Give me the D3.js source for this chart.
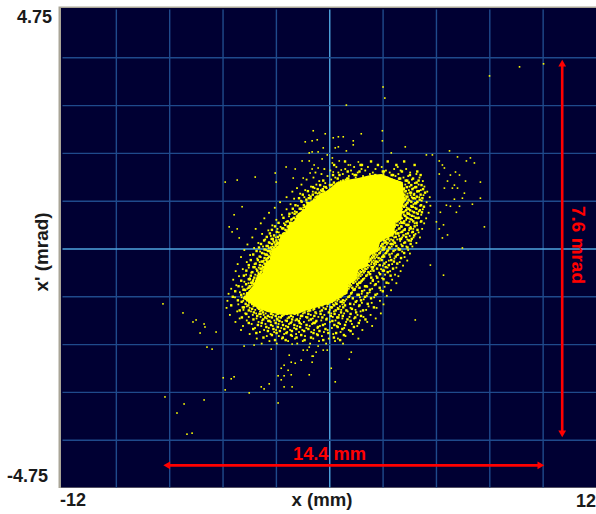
<!DOCTYPE html>
<html>
<head>
    <meta charset="utf-8">
    <title>Beam emittance x x'</title>
    <script src="https://d3js.org/d3.v7.min.js"></script>
    <style>
        body { margin: 0; background: #fff; }
        svg { display: block; }
        text { font-family: "Liberation Sans", Arial, sans-serif; font-weight: bold; }
    </style>
</head>
<body>
    <script>
        const xTicks = [-12, -9.6, -7.2, -4.8, -2.4, 0, 2.4, 4.8, 7.2, 9.6, 12];
        const yTicks = [-4.75, -3.8, -2.85, -1.9, -0.95, 0, 0.95, 1.9, 2.85, 3.8, 4.75];

        // solid part of the cloud, outline (mm, mrad)
        const coreOutline = [
            [-3.85,-1.0],[-3.6,-0.84],[-3.42,-0.74],[-3.25,-0.56],[-3.02,-0.5],[-2.9,-0.3],[-2.66,-0.22],[-2.55,-0.02],
            [-2.3,0.05],[-2.2,0.24],[-1.9,0.32],[-1.85,0.46],[-1.55,0.56],[-1.4,0.7],[-1.12,0.78],[-1.0,0.9],
            [-0.68,0.96],[-0.4,1.1],[-0.18,1.13],[0.1,1.22],[0.3,1.3],[0.75,1.36],[1.3,1.4],[1.85,1.46],
            [2.35,1.48],[2.9,1.38],[3.3,1.32],[3.35,1.12],[3.4,1.0],[3.3,0.82],[3.25,0.6],[2.98,0.52],
            [2.92,0.28],[2.55,0.2],[2.28,0.12],[2.18,-0.06],[1.82,-0.14],[1.72,-0.36],[1.33,-0.42],[1.18,-0.64],
            [0.86,-0.72],[0.82,-0.9],[0.36,-1.0],[0.15,-1.08],[-0.3,-1.14],[-1.1,-1.24],[-1.4,-1.3],[-2.07,-1.32],
            [-2.8,-1.26],[-3.4,-1.14]
        ];

        // halo round the core, one row per x' value: [x', x, x, x ...]
        const haloRows = [
            [1.62,0.32,1.12,1.74,2.36,3.08],
            [1.58,-0.22,0.72,1.45,2.08,2.92,3.46],
            [1.55,0.05,0.98,1.62,2.55,3.21],
            [1.51,-0.62,0.41,1.28,1.96,2.72,3.64],
            [1.48,-0.35,0.61,1.05,1.83,2.44,3.11,3.92],
            [1.44,-0.08,0.88,1.52,2.27,2.98,3.55],
            [1.41,-0.71,0.27,1.19,1.71,2.62,3.34,4.06],
            [1.37,-1.02,0.09,0.74,1.38,2.15,2.83,3.72],
            [1.34,-0.45,0.52,1.02,1.91,2.49,3.05,3.48,4.21],
            [1.30,-0.18,0.36,0.93,1.66,2.31,2.77,3.26,3.85],
            [1.27,-1.25,-0.58,0.14,0.68,2.04,2.58,2.95,3.42,4.02],
            [1.23,-0.82,-0.24,0.31,0.57,2.28,2.68,3.12,3.61,4.28],
            [1.20,-1.45,-0.66,-0.12,0.23,0.71,2.33,2.71,2.98,3.37,3.79],
            [1.16,-1.08,-0.38,0.05,0.44,2.61,2.86,3.22,3.58,4.12],
            [1.13,-1.66,-0.74,-0.21,0.18,0.39,2.76,3.04,3.41,3.95,4.41],
            [1.09,-1.31,-0.52,-0.07,0.11,2.72,2.91,3.18,3.52,3.83],
            [1.06,-0.91,-0.41,-0.16,2.81,3.09,3.29,3.66,4.24],
            [1.02,-1.92,-1.12,-0.63,-0.28,2.86,2.99,3.33,3.71,4.05,4.52],
            [0.99,-1.58,-0.83,-0.47,-0.11,2.93,3.15,3.46,3.88],
            [0.95,-1.27,-0.72,-0.34,-0.21,2.89,3.07,3.38,3.62,4.16],
            [0.92,-2.21,-1.02,-0.58,-0.39,3.01,3.24,3.54,3.97,4.38],
            [0.88,-1.74,-0.88,-0.51,-0.44,2.96,3.12,3.43,3.79],
            [0.85,-1.41,-0.96,-0.67,-0.53,3.04,3.31,3.68,4.09,4.55],
            [0.81,-2.45,-1.17,-0.84,-0.61,2.98,3.19,3.49,3.86],
            [0.78,-1.92,-1.28,-0.93,-0.72,3.08,3.27,3.58,4.21],
            [0.74,-1.55,-1.08,-0.87,3.02,3.14,3.39,3.74,4.03],
            [0.71,-2.71,-1.66,-1.22,-1.01,2.99,3.23,3.51,3.92,4.47],
            [0.67,-2.13,-1.36,-1.12,3.06,3.35,3.63,4.14],
            [0.64,-1.81,-1.47,-1.19,2.97,3.18,3.44,3.81],
            [0.60,-2.92,-1.63,-1.31,3.03,3.28,3.57,3.99,4.36],
            [0.57,-2.38,-1.72,-1.38,-1.24,2.98,3.11,3.46,3.73],
            [0.53,-1.94,-1.49,-1.29,3.01,3.22,3.61,4.11],
            [0.50,-3.08,-2.04,-1.58,-1.36,2.94,3.17,3.38,3.84,4.27],
            [0.46,-2.56,-1.77,-1.45,2.91,3.09,3.52,3.95],
            [0.43,-2.19,-1.88,-1.52,2.96,3.26,3.66],
            [0.39,-3.31,-2.33,-1.66,-1.56,2.89,3.12,3.41,3.78,4.18],
            [0.36,-2.74,-1.95,-1.69,2.86,3.03,3.33,3.59],
            [0.32,-2.27,-1.82,-1.61,2.78,2.94,3.21,3.72,4.02],
            [0.29,-3.02,-2.09,-1.74,2.73,2.99,3.45,3.88],
            [0.25,-2.63,-2.17,-1.91,2.69,2.85,3.14,3.62],
            [0.22,-3.46,-2.41,-2.01,-1.94,2.66,2.92,3.28,3.79,4.08],
            [0.18,-2.88,-2.26,-1.99,2.58,2.78,3.06,3.51],
            [0.15,-2.52,-2.12,2.53,2.71,3.19,3.68],
            [0.11,-3.19,-2.67,-2.29,-2.16,2.48,2.64,2.97,3.36,3.92],
            [0.08,-3.68,-2.43,-2.24,2.41,2.59,2.88,3.24],
            [0.04,-2.98,-2.55,-2.31,2.34,2.52,2.81,3.47,3.74],
            [0.01,-3.38,-2.72,-2.37,2.26,2.49,2.73,3.11],
            [-0.03,-3.82,-2.84,-2.46,-2.39,2.18,2.38,2.66,2.97,3.55],
            [-0.06,-3.11,-2.61,-2.43,2.09,2.31,2.59,3.28],
            [-0.10,-2.93,-2.52,2.02,2.24,2.51,2.82,3.63],
            [-0.13,-3.56,-2.78,-2.56,1.96,2.17,2.44,3.04],
            [-0.17,-3.97,-3.08,-2.66,-2.59,1.91,2.13,2.37,2.74,3.39],
            [-0.20,-3.24,-2.81,-2.63,1.84,2.06,2.31,2.93],
            [-0.24,-2.94,-2.69,1.78,1.99,2.26,2.68,3.51],
            [-0.27,-3.71,-3.13,-2.74,1.71,1.92,2.19,2.56,3.17],
            [-0.31,-4.12,-3.36,-2.86,-2.72,1.66,1.89,2.11,2.83],
            [-0.34,-3.02,-2.77,1.59,1.81,2.04,2.41,3.32],
            [-0.38,-3.62,-3.17,-2.84,1.53,1.74,1.98,2.62,3.02],
            [-0.41,-3.89,-3.28,-2.92,-2.82,1.47,1.68,1.93,2.33],
            [-0.45,-4.21,-3.05,-2.87,1.39,1.61,1.87,2.74,3.21],
            [-0.48,-3.51,-3.19,-2.94,1.32,1.56,1.79,2.24],
            [-0.52,-3.74,-3.33,-3.01,1.24,1.48,1.72,2.51,2.96],
            [-0.55,-4.06,-3.11,-2.98,1.17,1.41,1.65,2.12,3.11],
            [-0.59,-3.58,-3.26,-3.06,1.09,1.33,1.58,2.38],
            [-0.62,-4.32,-3.41,-3.14,0.97,1.26,1.51,1.97,2.83],
            [-0.66,-3.82,-3.29,-3.19,0.89,1.19,1.44,2.21],
            [-0.69,-3.63,-3.37,0.83,1.07,1.38,1.86,2.67,3.02],
            [-0.73,-4.18,-3.48,-3.31,0.76,0.99,1.29,2.04],
            [-0.76,-3.91,-3.55,-3.34,0.69,0.93,1.22,1.71,2.49],
            [-0.80,-4.41,-3.69,-3.42,0.62,0.88,1.16,1.93],
            [-0.83,-3.77,-3.47,0.57,0.81,1.11,1.58,2.31,2.78],
            [-0.87,-4.02,-3.61,-3.51,0.51,0.74,1.03,1.82],
            [-0.90,-4.53,-3.84,-3.53,0.44,0.69,0.97,1.46,2.16],
            [-0.94,-3.66,-3.56,0.39,0.58,0.92,1.69,2.59],
            [-0.97,-4.24,-3.94,-3.59,0.31,0.52,0.84,1.38,2.02],
            [-1.01,-3.73,-3.52,0.14,0.43,0.77,1.55],
            [-1.04,-4.58,-3.87,-3.46,-0.02,0.36,0.71,1.24,2.28],
            [-1.08,-3.61,-3.39,-0.18,0.28,0.66,1.47,1.91],
            [-1.11,-4.09,-3.48,-3.31,-0.37,0.17,0.59,1.11,2.44],
            [-1.15,-3.71,-3.41,-0.64,-0.09,0.48,1.33,1.77],
            [-1.18,-4.62,-3.58,-3.22,-0.89,-0.26,0.38,0.96,2.13],
            [-1.22,-3.86,-3.33,-3.01,-1.26,-0.72,0.02,0.54,1.18,1.66],
            [-1.25,-4.14,-3.52,-3.12,-1.58,-0.97,-0.41,0.21,0.83,1.41],
            [-1.29,-3.78,-3.29,-2.86,-2.21,-1.74,-1.18,-0.58,0.09,0.67,2.32],
            [-1.32,-4.47,-3.44,-2.95,-2.53,-2.04,-1.42,-0.83,-0.22,0.44,1.27,1.86],
            [-1.36,-3.62,-3.09,-2.68,-2.27,-1.63,-1.05,-0.49,0.16,0.91,1.54],
            [-1.39,-4.03,-3.27,-2.81,-2.36,-1.88,-1.31,-0.74,-0.11,0.59,1.12,2.09],
            [-1.43,-3.71,-3.02,-2.47,-1.97,-1.52,-0.92,-0.36,0.28,1.38],
            [-1.46,-4.22,-3.18,-2.63,-2.12,-1.69,-1.14,-0.61,0.03,0.76,1.71],
            [-1.50,-3.49,-2.87,-2.28,-1.81,-1.26,-0.77,-0.19,0.49,1.02],
            [-1.54,-3.88,-3.06,-2.54,-1.95,-1.44,-0.88,-0.42,0.34,1.26,1.93],
            [-1.58,-3.34,-2.72,-2.16,-1.58,-1.03,-0.53,0.12,0.67],
            [-1.62,-3.97,-2.93,-2.39,-1.76,-1.21,-0.68,-0.07,0.88,1.49],
            [-1.66,-3.12,-2.48,-1.89,-1.36,-0.81,-0.24,0.51],
            [-1.70,-3.58,-2.64,-2.03,-1.49,-0.56,0.18,1.06],
            [-1.74,-2.81,-2.27,-1.67,-1.09,-0.33,0.73],
            [-1.79,-3.26,-2.13,-1.54,-0.72,-0.02,0.39,1.31],
            [-1.84,-2.69,-1.85,-1.19,-0.46,0.26],
            [-1.89,-3.04,-2.36,-1.44,-0.86,-0.14,0.62]
        ];

        // clumpy fringe that hugs the core, same row layout
        const fringeRows = [
            [1.73,0.71,1.88,2.63,3.37],
            [1.66,0.22,1.41,1.47,2.19,3.02,3.84],
            [1.53,0.83,1.36,2.41,2.46,3.27,3.96],
            [1.46,0.17,0.46,1.14,1.21,2.07,2.81,2.87,3.63,4.11],
            [1.39,0.38,0.81,0.86,1.59,2.36,3.14,3.19,3.77],
            [1.35,-0.27,0.63,1.28,1.33,2.58,2.91,3.44,3.51,4.02],
            [1.31,0.21,0.44,0.72,1.12,3.01,3.16,3.58,3.93],
            [1.26,-0.41,0.03,0.09,0.47,0.82,3.22,3.27,3.69,4.15],
            [1.22,-0.73,-0.16,0.36,0.42,3.16,3.49,3.87,3.91],
            [1.18,-0.52,-0.29,0.12,0.27,3.13,3.31,3.36,3.74,4.22],
            [1.14,-0.96,-0.33,-0.27,0.06,3.21,3.44,3.97,4.03],
            [1.11,-0.61,-0.44,-0.04,0.01,3.12,3.26,3.63,3.68,4.31],
            [1.07,-1.19,-0.74,-0.22,-0.17,3.24,3.38,3.81,4.11],
            [1.03,-0.84,-0.56,-0.51,-0.23,3.18,3.47,3.52,3.94],
            [1.00,-1.36,-0.92,-0.38,-0.33,3.22,3.34,3.76,3.82,4.19],
            [0.97,-1.03,-0.68,-0.62,3.19,3.41,3.57,4.07],
            [0.93,-1.24,-0.79,-0.47,3.11,3.29,3.33,3.69,3.96],
            [0.90,-0.98,-0.93,-0.55,3.16,3.51,3.87,3.91],
            [0.86,-1.52,-1.14,-0.69,-0.64,3.09,3.24,3.44,4.13],
            [0.83,-1.09,-0.78,3.12,3.37,3.71,3.76,4.26],
            [0.79,-1.64,-1.33,-1.28,-0.86,3.18,3.21,3.56,3.92],
            [0.76,-1.18,-1.13,-0.94,3.07,3.46,3.64,4.08],
            [0.72,-1.47,-1.03,3.13,3.29,3.34,3.81,4.17],
            [0.69,-1.79,-1.56,-1.26,-1.21,3.16,3.53,3.58,3.98],
            [0.65,-1.42,-1.37,-1.17,3.09,3.41,3.72],
            [0.61,-2.06,-1.58,-1.24,2.94,3.23,3.49,3.89,4.02],
            [0.58,-1.69,-1.51,-1.46,2.87,3.14,3.19,3.66],
            [0.54,-1.87,-1.41,2.81,3.07,3.37,3.78,4.14],
            [0.51,-2.28,-1.76,-1.71,-1.53,2.86,3.27,3.32,3.93],
            [0.47,-1.98,-1.62,2.77,3.02,3.47,3.56],
            [0.44,-2.44,-1.84,-1.79,2.72,2.91,3.24,3.84],
            [0.40,-2.12,-2.07,-1.73,2.79,3.16,3.62,3.67],
            [0.37,-2.58,-1.97,-1.83,2.74,2.83,3.39,3.97],
            [0.33,-2.36,-1.91,2.69,2.96,3.28,3.76],
            [0.30,-2.67,-2.04,-1.99,2.63,2.81,3.07,3.11,3.54],
            [0.26,-2.48,-2.22,-2.11,2.51,2.76,3.34,3.82],
            [0.23,-2.81,-2.31,-2.06,2.44,2.61,2.99,3.46],
            [0.19,-2.59,-2.54,-2.16,2.37,2.66,3.18,3.23,3.71],
            [0.16,-2.93,-2.38,-2.21,2.29,2.47,2.87,3.58],
            [0.12,-2.71,-2.47,-2.33,2.21,2.56,2.93,3.41],
            [0.09,-3.07,-2.58,-2.34,2.16,2.39,2.76,2.81,3.66],
            [0.05,-2.82,-2.77,-2.41,2.11,2.33,3.02,3.29],
            [0.02,-3.16,-2.63,-2.49,2.04,2.42,2.69,3.52],
            [-0.02,-2.91,-2.57,2.01,2.22,2.46,3.13,3.18],
            [-0.05,-3.27,-2.76,-2.68,-2.53,1.93,2.14,2.62,2.89],
            [-0.09,-3.02,-2.64,1.88,2.27,2.56,3.37],
            [-0.12,-3.42,-2.87,-2.82,-2.61,1.83,2.08,2.71,3.09],
            [-0.16,-3.13,-2.71,1.76,2.01,2.41,2.47,2.99],
            [-0.19,-2.91,-2.76,1.69,1.94,2.22,3.23],
            [-0.23,-3.53,-3.21,-2.83,1.63,1.86,2.36,2.79],
            [-0.26,-3.04,-2.99,-2.79,1.56,1.79,2.08,2.13,2.91],
            [-0.30,-3.31,-2.91,1.52,2.02,2.48,3.06],
            [-0.33,-3.62,-3.12,-2.84,1.47,1.73,2.27,2.68],
            [-0.37,-3.41,-3.36,-2.97,1.43,1.91,1.96,2.54],
            [-0.40,-3.09,-3.04,-2.89,1.29,1.62,2.15,2.87],
            [-0.44,-3.73,-3.24,-2.96,1.21,1.53,1.99,2.41,2.46],
            [-0.47,-3.46,-3.08,1.14,1.44,1.76,2.63],
            [-0.51,-3.16,-3.11,-2.99,1.06,1.36,1.84,2.29],
            [-0.54,-3.84,-3.53,-3.22,0.99,1.31,1.67,2.76],
            [-0.58,-3.37,-3.14,0.92,1.18,1.23,1.89,2.16],
            [-0.61,-3.62,-3.57,-3.24,0.86,1.12,1.53,2.44],
            [-0.64,-3.96,-3.43,-3.28,0.81,1.02,1.46,1.96],
            [-0.68,-3.51,-3.46,-3.21,0.73,1.09,1.34,1.39,2.58],
            [-0.71,-3.74,-3.39,0.66,0.92,1.26,2.09],
            [-0.75,-4.08,-3.58,-3.32,0.61,0.87,1.61,1.67],
            [-0.78,-3.63,-3.44,-3.36,0.56,1.04,1.36,2.27],
            [-0.82,-3.86,-3.81,-3.52,0.48,0.78,1.09,1.14,1.83],
            [-0.85,-4.23,-3.57,-3.43,0.41,0.71,1.48,2.41],
            [-0.89,-3.69,-3.64,-3.49,0.33,0.62,0.99,1.72],
            [-0.92,-3.96,-3.71,-3.54,0.26,0.54,1.27,1.33,2.08],
            [-0.96,-4.34,-3.79,-3.68,0.18,0.47,0.88,1.61],
            [-0.99,-3.83,-3.62,0.08,0.34,0.39,1.06,1.88],
            [-1.03,-4.11,-3.69,-3.41,-0.06,0.24,0.62,1.43],
            [-1.06,-3.94,-3.54,-3.49,-0.21,0.11,0.51,0.56,1.19],
            [-1.10,-3.76,-3.44,-3.27,-0.42,-0.07,0.33,0.94,1.73],
            [-1.13,-4.41,-3.64,-3.36,-0.57,-0.31,0.22,0.71,1.36],
            [-1.17,-3.89,-3.84,-3.22,-2.94,-0.83,-0.46,0.07,0.12,0.63,2.01],
            [-1.20,-3.47,-3.16,-2.88,-1.09,-0.68,-0.16,0.41,1.02],
            [-1.23,-4.03,-3.62,-3.06,-2.73,-1.34,-0.91,-0.86,-0.33,0.29,0.77,1.52],
            [-1.27,-3.39,-2.98,-2.58,-1.47,-1.11,-0.62,-0.02,0.53,1.21],
            [-1.30,-3.73,-3.14,-3.09,-2.62,-2.32,-1.91,-1.56,-0.94,-0.39,0.24,0.96],
            [-1.34,-3.24,-2.76,-2.41,-2.12,-1.72,-1.27,-1.22,-0.67,0.07,0.61,1.43],
            [-1.37,-3.93,-2.88,-2.58,-2.18,-1.81,-0.99,-0.31,0.36,0.41,1.17],
            [-1.41,-3.41,-2.97,-2.33,-1.67,-1.46,-0.83,-0.13,0.82,1.63],
            [-1.44,-2.74,-2.69,-2.24,-1.91,-1.37,-0.58,0.14,0.96],
            [-1.48,-3.62,-3.04,-2.41,-1.74,-1.33,-0.71,-0.66,0.42,1.33],
            [-1.52,-3.21,-2.62,-2.08,-1.57,-1.02,-0.28,0.23,0.71],
            [-1.56,-2.83,-2.31,-1.86,-1.31,-0.51,0.38,1.11],
            [-1.60,-3.42,-2.51,-2.02,-1.48,-0.94,-0.17,0.59],
            [-1.64,-2.76,-2.22,-1.68,-1.13,-0.44,0.96],
            [-1.68,-3.28,-2.37,-1.93,-0.71,-0.04,0.31],
            [-1.72,-2.58,-1.72,-1.26,-0.52,0.66],
            [-1.77,-2.96,-2.09,-1.47,-0.82,0.21],
            [-1.82,-2.44,-1.96,-1.11,-0.27,0.49]
        ];

        // loose points outside the halo (mm, mrad)
        const strayPoints = [
            [-5.50,-1.96],[-5.27,-2.00],[-3.83,-1.94],[-3.38,-1.92],[-7.39,-2.95],[-6.53,-3.09],[-5.63,-3.01],[-6.85,-3.27],
            [-6.40,-3.69],[-6.17,-3.67],[-4.68,-2.81],[-4.41,-2.59],[-4.28,-2.55],[-3.60,-2.87],[-3.06,-2.75],[-2.93,-2.79],
            [-2.70,-2.69],[-2.30,-3.07],[-2.03,-2.75],[-1.67,-2.75],[-2.30,-2.53],[-2.03,-2.53],[-2.16,-2.61],[-2.16,-2.38],
            [-2.03,-2.32],[-1.85,-2.42],[-1.71,-2.51],[-0.90,-2.51],[-1.71,-2.26],[-1.53,-2.28],[-1.26,-2.22],[-0.77,-2.26],
            [-1.80,-2.12],[-0.77,-2.14],[-0.72,-2.14],[0.09,-2.38],[0.27,-2.65],[-0.59,-2.06],[-1.17,-2.02],[-0.99,-2.02],
            [-0.27,-2.02],[-0.09,-2.02],[-0.50,-1.94],[-0.90,-1.96],[0.90,-2.20],[-2.61,-2.00],[-1.67,-1.90],[-7.48,-1.10],
            [-6.58,-1.28],[-5.99,-1.42],[-5.59,-1.56],[-5.81,-1.68],[-5.09,-1.66],[-4.77,-2.57],[-6.13,-1.46],[-5.63,-1.50],
            [0.99,-2.06],[-4.68,1.32],[-4.14,1.36],[-3.33,1.42],[-3.92,0.83],[-4.28,0.67],[-4.50,0.43],[-4.37,0.33],
            [-4.14,0.39],[-4.05,0.21],[-1.94,1.62],[-1.53,1.58],[-1.22,1.74],[-0.90,1.74],[-2.43,1.50],[-2.39,1.32],
            [-0.72,2.34],[-0.18,2.28],[0.18,2.20],[0.41,2.22],[0.63,2.22],[-0.54,2.16],[-0.77,2.14],[1.08,2.14],
            [1.08,2.06],[-0.27,2.00],[0.41,2.02],[0.27,2.00],[0.77,1.94],[-0.90,1.90],[-0.77,1.92],[-0.50,1.92],
            [-0.09,1.86],[-0.32,1.78],[0.14,1.80],[0.45,1.74],[0.14,1.70],[-0.68,1.66],[-0.50,1.60],[-0.77,1.58],
            [0.86,1.66],[0.95,1.66],[1.31,1.72],[0.18,1.52],[0.54,1.56],[-0.86,1.50],[-1.17,1.40],[-1.62,1.40],
            [2.42,3.21],[2.50,2.99],[0.77,2.85],[-1.08,2.12],[1.44,2.28],[2.39,2.34],[2.39,2.14],[3.42,2.02],
            [2.79,1.90],[5.41,1.94],[4.37,1.86],[4.64,1.86],[5.77,1.82],[6.35,1.80],[6.17,1.74],[6.53,1.70],
            [4.95,1.74],[5.09,1.66],[5.18,1.60],[4.95,1.48],[5.45,1.46],[5.68,1.52],[5.86,1.46],[5.32,1.34],
            [6.13,1.34],[6.80,1.32],[5.63,1.26],[5.77,1.20],[5.54,1.20],[5.18,1.20],[6.08,1.10],[5.99,1.00],
            [6.80,1.00],[5.63,0.98],[6.44,0.88],[5.27,0.86],[5.45,0.84],[5.86,0.84],[5.00,0.72],[5.72,0.72],
            [4.82,0.53],[6.98,0.43],[5.14,0.47],[4.95,0.39],[5.32,0.27],[5.09,0.21],[5.99,0.01],[8.56,3.61],
            [9.64,3.67],[7.21,3.43],[4.55,-0.33],[5.14,-0.53],[3.87,-1.42]
        ];

        const spanX = [-7.26, 9.47];
        const spanY = [-3.66, 3.66];
        const spanXAt = -4.31;
        const spanYAt = 10.48;

        var width = 596, height = 514;
        var left = 62.5, right = 596, top_ = 9.5, bottom = 487.5;

        var x = d3.scaleLinear().domain([-12, 12]).range([left, right]);
        var y = d3.scaleLinear().domain([-4.75, 4.75]).range([bottom, top_]);

        var svg = d3.select("body").append("svg")
            .attr("width", width)
            .attr("height", height);

        svg.append("defs").append("clipPath").attr("id", "plot")
            .append("rect").attr("x", left - 1).attr("y", top_ - 1)
            .attr("width", right - left + 1).attr("height", bottom - top_ + 1);

        // frame, gray on top and left only
        svg.append("rect").attr("x", 58.5).attr("y", 6.5).attr("width", width).attr("height", bottom - 6).attr("fill", "#a9a597");
        svg.append("rect").attr("x", left - 1.5).attr("y", top_ - 1.5).attr("width", width).attr("height", bottom - top_ + 1.5).attr("fill", "#000033");

        // grid drawn with d3 axes
        var gridColor = function (v) { return v === 0 ? "#4fa6e0" : "#1f4a8c"; };

        var gx = svg.append("g").attr("transform", "translate(0," + bottom + ")")
            .call(d3.axisBottom(x).tickValues(xTicks.slice(1, -1)).tickSize(top_ - bottom).tickFormat(""));
        gx.select(".domain").remove();
        gx.selectAll("line").attr("stroke", gridColor).attr("stroke-width", 1.4);

        var gy = svg.append("g").attr("transform", "translate(" + left + ",0)")
            .call(d3.axisLeft(y).tickValues(yTicks.slice(1, -1)).tickSize(left - right).tickFormat(""));
        gy.select(".domain").remove();
        gy.selectAll("line").attr("stroke", gridColor).attr("stroke-width", 1.4);

        // the cloud
        var cloud = svg.append("g").attr("clip-path", "url(#plot)");

        function flatten(rows) {
            var out = [];
            rows.forEach(function (row) {
                row.slice(1).forEach(function (v) { out.push([v, row[0]]); });
            });
            return out;
        }

        function drawDots(points, size) {
            cloud.append("g").selectAll("rect")
                .data(points)
                .enter().append("rect")
                .attr("x", function (d) { return x(d[0]) - size / 2; })
                .attr("y", function (d) { return y(d[1]) - size / 2; })
                .attr("width", size)
                .attr("height", size)
                .attr("fill", "#ffff00");
        }

        drawDots(strayPoints, 1.6);
        drawDots(flatten(haloRows), 1.8);
        drawDots(flatten(fringeRows), 2.4);

        var coreLine = d3.line()
            .x(function (d) { return x(d[0]); })
            .y(function (d) { return y(d[1]); })
            .curve(d3.curveLinearClosed);

        cloud.append("path").attr("d", coreLine(coreOutline)).attr("fill", "#ffff00");

        // red span arrows
        var red = "#ff0000";
        var arrows = svg.append("g");
        arrows.append("line")
            .attr("x1", x(spanX[0])).attr("x2", x(spanX[1]))
            .attr("y1", y(spanXAt)).attr("y2", y(spanXAt))
            .attr("stroke", red).attr("stroke-width", 2.6);
        arrows.append("line")
            .attr("x1", x(spanYAt)).attr("x2", x(spanYAt))
            .attr("y1", y(spanY[1])).attr("y2", y(spanY[0]))
            .attr("stroke", red).attr("stroke-width", 2.6);

        var sym = d3.symbol().type(d3.symbolTriangle).size(26);
        [[x(spanX[0]), y(spanXAt), -90], [x(spanX[1]), y(spanXAt), 90],
         [x(spanYAt), y(spanY[1]), 0], [x(spanYAt), y(spanY[0]), 180]].forEach(function (a) {
            arrows.append("path").attr("d", sym())
                .attr("transform", "translate(" + a[0] + "," + a[1] + ") rotate(" + a[2] + ")")
                .attr("fill", red);
        });

        svg.append("text").attr("x", 329.5).attr("y", 460).attr("text-anchor", "middle")
            .attr("font-size", 18).attr("fill", red)
            .attr("textLength", 73).attr("lengthAdjust", "spacingAndGlyphs").text("14.4 mm");
        svg.append("text").attr("transform", "translate(572,245) rotate(90)").attr("text-anchor", "middle")
            .attr("font-size", 18).attr("fill", red)
            .attr("textLength", 78).attr("lengthAdjust", "spacingAndGlyphs").text("7.6 mrad");

        // axis labels
        var ink = "#1a1a1a";
        svg.append("text").attr("x", 322).attr("y", 506).attr("text-anchor", "middle")
            .attr("font-size", 18).attr("fill", ink)
            .attr("textLength", 61).attr("lengthAdjust", "spacingAndGlyphs").text("x (mm)");
        svg.append("text").attr("transform", "translate(48,252) rotate(-90)").attr("text-anchor", "middle")
            .attr("font-size", 18).attr("fill", ink)
            .attr("textLength", 79).attr("lengthAdjust", "spacingAndGlyphs").text("x' (mrad)");
        svg.append("text").attr("x", 52).attr("y", 23).attr("text-anchor", "end")
            .attr("font-size", 18).attr("fill", ink).text(yTicks[10]);
        svg.append("text").attr("x", 48).attr("y", 482).attr("text-anchor", "end")
            .attr("font-size", 18).attr("fill", ink).text(yTicks[0]);
        svg.append("text").attr("x", 60).attr("y", 506)
            .attr("font-size", 18).attr("fill", ink).text(xTicks[0]);
        svg.append("text").attr("x", 596).attr("y", 507).attr("text-anchor", "end")
            .attr("font-size", 18).attr("fill", ink).text(xTicks[10]);
    </script>
</body>
</html>
